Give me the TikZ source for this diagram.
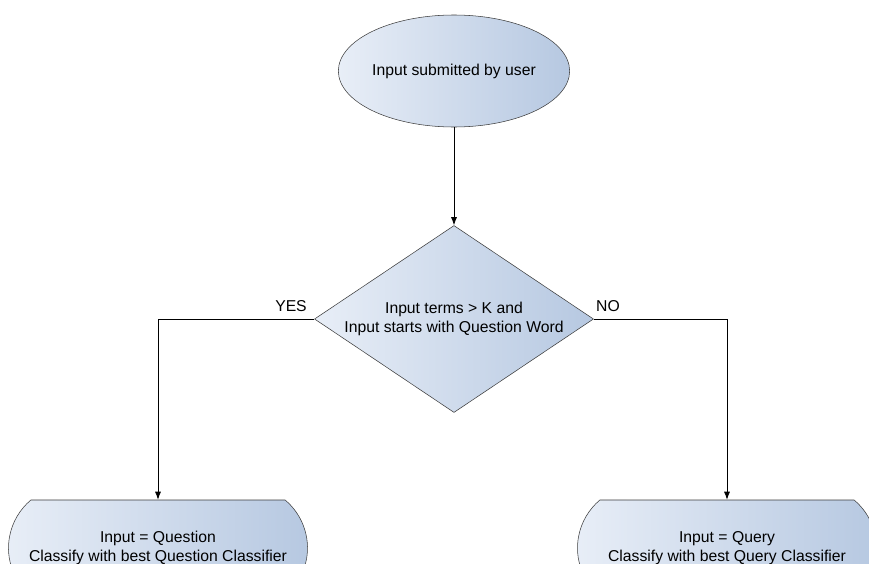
\documentclass[tikz,border=0pt]{standalone}
\usepackage{fontspec}
\setmainfont{Liberation Sans}
\usetikzlibrary{shapes.geometric,shapes.misc,arrows.meta}

\definecolor{shadeLight}{RGB}{232,238,247}
\definecolor{shadeDark}{RGB}{182,200,225}
\definecolor{edgeGrey}{RGB}{60,60,60}

\begin{document}
\begin{tikzpicture}[%%
  x=0.75pt,y=-0.75pt,%%
  font=\fontsize{11.8}{14}\selectfont,%%
  boxStyle/.style={draw=edgeGrey,left color=shadeLight,right color=shadeDark,align=center,inner sep=0pt},%%
  startStyle/.style={boxStyle,ellipse,minimum width=0.75*186pt,minimum height=0.75*112pt},%%
  decideStyle/.style={boxStyle,diamond,aspect=1.49,minimum width=0.75*279pt,minimum height=0.75*187pt},%%
  endStyle/.style={boxStyle,rounded rectangle,rounded rectangle arc length=100,minimum width=0.75*299pt,minimum height=0.75*96pt},%%
  arrowStyle/.style={-{Latex[length=6pt,width=4.5pt]},semithick},%%
  labelStyle/.style={anchor=base}%%
]
%%
%%
\clip (0,0) rectangle (869,564);
%%
%% Nodes of the flow.
\node[startStyle] (submitted) at (454,71) {Input submitted by user};
\node[decideStyle] (decide) at (454,319) {Input terms > K and\\Input starts with Question Word};
\node[endStyle] (question) at (158,548) {Input = Question\\Classify with best Question Classifier};
\node[endStyle] (query) at (727,548) {Input = Query\\Classify with best Query Classifier};
%%
%% Connectors.
\draw[arrowStyle] (submitted) -- (decide);
\draw[arrowStyle] (decide.west) -| (question.north);
\draw[arrowStyle] (decide.east) -| (query.north);
%%
%% Branch labels.
\node[labelStyle] (yesLabel) at (291,311) {YES};
\node[labelStyle] (noLabel) at (608,311) {NO};
\end{tikzpicture}
\end{document}
